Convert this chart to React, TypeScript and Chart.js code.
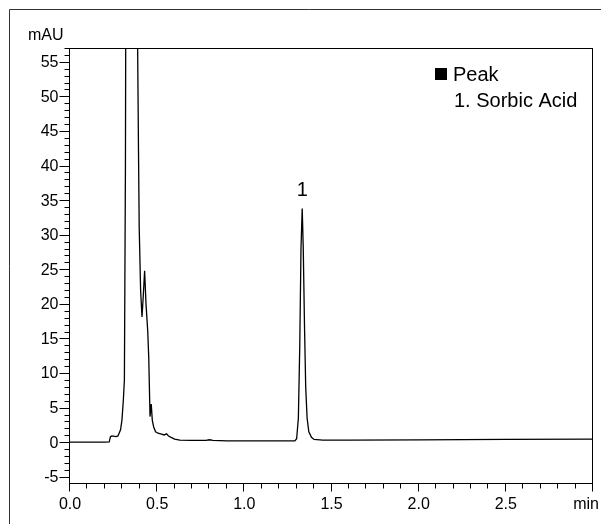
import React, { useEffect, useRef } from "react";
import { Chart, registerables } from "chart.js";

Chart.register(...registerables);

// Chromatogram trace (time in min, absorbance in mAU)
const times = [
  0, 0.1, 0.2, 0.225, 0.232, 0.24, 0.265, 0.275, 0.29, 0.298, 0.306, 0.312, 0.318,
  0.325, 0.335, 0.35, 0.365, 0.378, 0.388, 0.393, 0.397, 0.405, 0.413, 0.42, 0.428,
  0.436, 0.446, 0.452, 0.459, 0.466, 0.472, 0.48, 0.491, 0.505, 0.52, 0.54, 0.554,
  0.565, 0.58, 0.6, 0.63, 0.7, 0.78, 0.8, 0.82, 0.9, 1.0, 1.1, 1.2, 1.29, 1.3, 1.31,
  1.318, 1.325, 1.332, 1.338, 1.345, 1.352, 1.36, 1.37, 1.385, 1.4, 1.45, 1.6, 2.0,
  2.5, 3.0,
];
const signal = [
  0, 0, 0, 0.05, 0.8, 0.9, 0.8, 0.9, 1.8, 3.2, 6.1, 9, 40, 120, 200, 230, 200, 110,
  57, 42, 31, 22, 18.1, 21, 24.8, 20, 16, 12, 3.7, 5.5, 3.2, 2.2, 1.5, 1.3, 1.2, 1.05,
  1.2, 0.9, 0.7, 0.45, 0.3, 0.25, 0.25, 0.35, 0.25, 0.2, 0.2, 0.2, 0.2, 0.2, 0.5, 3.5,
  14, 28, 33.8, 28, 17, 8, 3.5, 1.5, 0.7, 0.4, 0.3, 0.3, 0.35, 0.4, 0.45,
];

const yTickValues = [-5, 0, 5, 10, 15, 20, 25, 30, 35, 40, 45, 50, 55];
const xTickValues = [0, 0.5, 1.0, 1.5, 2.0, 2.5];
const xTickLabels = ["0.0", "0.5", "1.0", "1.5", "2.0", "2.5"];
const xUnitLabel = "min";
const yUnitLabel = "mAU";

const peakNames = ["1. Sorbic Acid"];
const peakTimes = [1.332];
const peakHeights = [33.8];
const peakLabels = ["1"];
const legendTitle = "Peak";

const FONT = 'Arial, "Liberation Sans", Helvetica, sans-serif';

const decorPlugin = {
  id: "decor",
  afterDraw(chart: any) {
    const ctx = chart.ctx as CanvasRenderingContext2D;
    const xs = chart.scales.x;
    const ys = chart.scales.y;
    const a = chart.chartArea;
    ctx.save();
    // outer frame
    ctx.strokeStyle = "#333";
    ctx.lineWidth = 1;
    ctx.beginPath();
    ctx.moveTo(1.5, chart.height);
    ctx.lineTo(1.5, 1.5);
    ctx.lineTo(chart.width, 1.5);
    ctx.stroke();

    // plot box
    ctx.strokeStyle = "#000";
    ctx.strokeRect(Math.round(a.left) - 0.5, Math.round(a.top) + 0.5, Math.round(a.right - a.left), Math.round(a.bottom - a.top));

    // y ticks
    const left = Math.round(a.left) - 0.5;
    ctx.beginPath();
    for (let v = Math.ceil(ys.min); v <= Math.floor(ys.max); v++) {
      const y = Math.round(ys.getPixelForValue(v)) + 0.5;
      const len = v % 5 === 0 ? 10 : 5;
      ctx.moveTo(left - len, y);
      ctx.lineTo(left, y);
    }
    // x ticks
    const bottom = Math.round(a.bottom) + 0.5;
    for (let i = 0; i <= 30; i++) {
      const v = i / 10;
      const x = Math.round(xs.getPixelForValue(v)) - 0.5;
      const len = i % 5 === 0 ? 8 : 5;
      ctx.moveTo(x, bottom);
      ctx.lineTo(x, bottom + len);
    }
    ctx.stroke();

    ctx.fillStyle = "#000";
    ctx.font = `16px ${FONT}`;
    ctx.textAlign = "right";
    ctx.textBaseline = "middle";
    yTickValues.forEach((v) => {
      ctx.fillText(String(v), left - 11, ys.getPixelForValue(v) + 1);
    });
    ctx.textAlign = "center";
    ctx.textBaseline = "middle";
    xTickValues.forEach((v, i) => {
      ctx.fillText(xTickLabels[i], xs.getPixelForValue(v), bottom + 21);
    });
    ctx.textAlign = "right";
    ctx.fillText(xUnitLabel, a.right + 6, bottom + 21);
    ctx.textAlign = "left";
    ctx.textBaseline = "alphabetic";
    ctx.fillText(yUnitLabel, 20, 32);

    // peak labels
    ctx.font = `20px ${FONT}`;
    ctx.textAlign = "center";
    peakTimes.forEach((t, i) => {
      ctx.fillText(peakLabels[i], xs.getPixelForValue(t), ys.getPixelForValue(peakHeights[i]) - 12);
    });

    // legend
    ctx.fillRect(427, 60, 12, 12);
    ctx.textAlign = "left";
    ctx.fillText(legendTitle, 445, 73);
    peakNames.forEach((n, i) => {
      ctx.fillText(n, 446, 99 + i * 25);
    });
    ctx.restore();
  },
};

export default function App() {
  const ref = useRef<HTMLCanvasElement | null>(null);
  useEffect(() => {
    if (!ref.current) return;
    const chart = new Chart(ref.current, {
      type: "line",
      data: {
        datasets: [
          {
            data: times.map((t, i) => ({ x: t, y: signal[i] })),
            borderColor: "#000",
            borderWidth: 1.3,
            pointRadius: 0,
            tension: 0,
            fill: false,
          },
        ],
      },
      options: {
        animation: false,
        responsive: true,
        maintainAspectRatio: false,
        layout: { padding: { left: 62, top: 40, right: 16, bottom: 41 } },
        plugins: { legend: { display: false }, tooltip: { enabled: false } },
        events: [],
        scales: {
          x: { type: "linear", min: 0, max: 3.0, display: false },
          y: { type: "linear", min: -5.9, max: 57, display: false },
        },
      },
      plugins: [decorPlugin],
    });
    return () => chart.destroy();
  }, []);
  return (
    <div style={{ position: "relative", width: 601, height: 516 }}>
      <canvas ref={ref} />
    </div>
  );
}
